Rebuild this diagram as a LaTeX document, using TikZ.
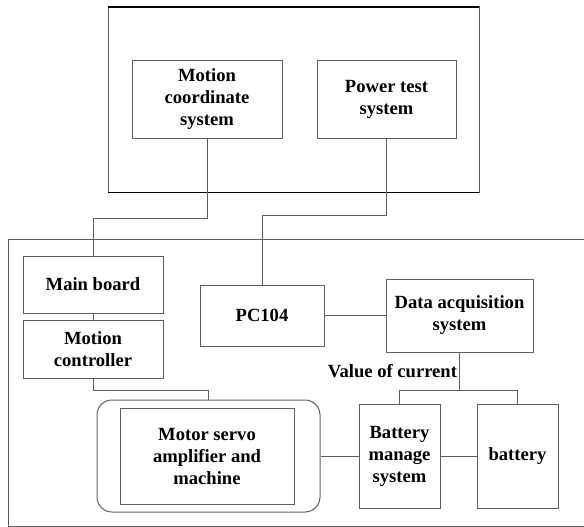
\documentclass[tikz,border=0pt]{standalone}
\usepackage{fontspec}
\setmainfont{Liberation Serif}
\usepackage{tikz}
\usetikzlibrary{positioning}
\definecolor{linec}{RGB}{95,95,95}

\begin{document}
\begin{tikzpicture}[x=1pt,y=-1pt,font=\fontsize{18.6}{22}\selectfont\bfseries,node distance=6pt]
\tikzstyle{b}=[draw=linec,line width=1pt,align=center,inner sep=0pt]
\tikzstyle{w}=[linec,line width=1pt]
\useasboundingbox (0,0) rectangle (584,527);
% outer frames
\draw[w] (108,7) rectangle (479,192);
\draw[black,line width=1.6pt] (108,7) -- (479,7);
\draw[black,line width=1pt] (108,192) -- (479,192);
\draw[w] (8,239) rectangle (600,526);
% upper part
\node[b,minimum width=150pt,minimum height=77pt] (mcs) at (207,99.5) {Motion\\coordinate\\system};
\node[b,minimum width=139pt,minimum height=77pt] (pts) at (386.5,99.5) {Power test\\system};
% lower part
\node[b,minimum width=140pt,minimum height=57pt] (main) at (93,284.5) {Main board};
\node[b,minimum width=140pt,minimum height=58pt,below=6pt of main] (mctl) {Motion\\controller};
\node[b,minimum width=124pt,minimum height=61pt] (pc) at (262,315.5) {PC104};
\node[b,minimum width=147pt,minimum height=73pt] (daq) at (459.5,315.5) {Data acquisition\\system};
\node[b,rounded corners=15pt,minimum width=223pt,minimum height=112pt] (servo) at (208.5,456) {};
\node[b,minimum width=174pt,minimum height=96pt] (amp) at (207,456) {Motor servo\\amplifier and\\machine};
\node[b,minimum width=81pt,minimum height=104pt] (bms) at (399.5,456) {Battery\\manage\\system};
\node[b,minimum width=81pt,minimum height=104pt] (bat) at (517.5,456) {battery};
% links
\draw[w] (mcs.south) -- ++(0,80) -| (main.north);
\draw[w] (pts.south) -- ++(0,77) -| (pc.north);
\draw[w] (main) -- (mctl);
\draw[w] (mctl.south) -- ++(0,12) -| (servo.north);
\draw[w] (pc) -- (daq);
\draw[w] (daq.south) -- node[left,inner sep=2pt,text=black] (cur) {Value of current} ++(0,38) coordinate (j);
\draw[w] (j) -| (bms.north);
\draw[w] (j) -| (bat.north);
\draw[w] (servo) -- (bms);
\draw[w] (bms) -- (bat);
\end{tikzpicture}
\end{document}
